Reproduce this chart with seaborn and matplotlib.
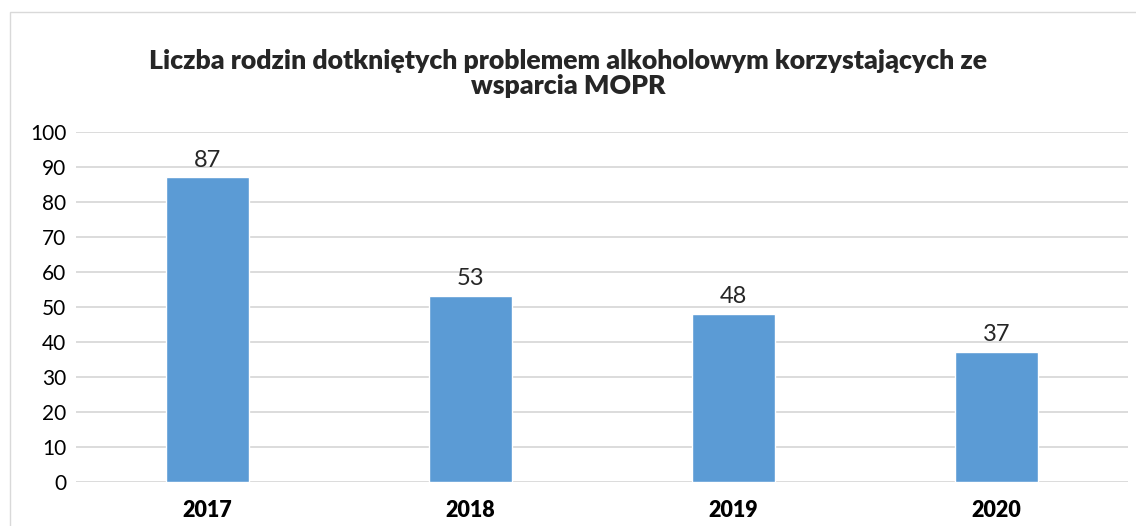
import matplotlib
matplotlib.use("Agg")
import matplotlib.pyplot as plt
import matplotlib.patches as mpatches
import seaborn as sns

years = ["2017", "2018", "2019", "2020"]
families = [87, 53, 48, 37]
title = "Liczba rodzin dotkniętych problemem alkoholowym korzystających ze\nwsparcia MOPR"

sns.set_style("white")
plt.rcParams["font.family"] = ["Lato", "DejaVu Sans"]

fig = plt.figure(figsize=(11.36, 5.26), dpi=100)
ax = fig.add_axes([0.067, 0.084, 0.926, 0.665])

sns.barplot(x=years, y=families, color="#5B9BD5", width=0.315, saturation=1, ax=ax, zorder=3)

ax.set_ylim(0, 100)
ax.set_xlim(-0.5, 3.5)
ax.set_yticks(range(0, 101, 10))
ax.yaxis.grid(True, color="#D9D9D9", linewidth=1.3, zorder=0)
ax.set_axisbelow(True)
for s in ax.spines.values():
    s.set_visible(False)
ax.tick_params(axis="both", length=0, labelsize=15, colors="black")
ax.tick_params(axis="x", pad=13)
ax.tick_params(axis="y", pad=7)
ax.set_xticks(range(len(years)))
ax.set_xticklabels(years, fontweight="heavy", fontsize=15.5)

for i, v in enumerate(families):
    ax.text(i, v + 2, str(v), ha="center", va="bottom", fontsize=17)

fig.text(0.5, 0.86, title, ha="center", va="center", fontsize=19.2, fontweight="heavy", linespacing=1.05)

fig.patches.append(mpatches.Rectangle((10 / 1136, -0.1), 1.2, 1 - 12 / 526 + 0.1,
                                      transform=fig.transFigure, fill=False,
                                      edgecolor="#D9D9D9", linewidth=1, zorder=0))

fig.savefig("out.png", dpi=100)
